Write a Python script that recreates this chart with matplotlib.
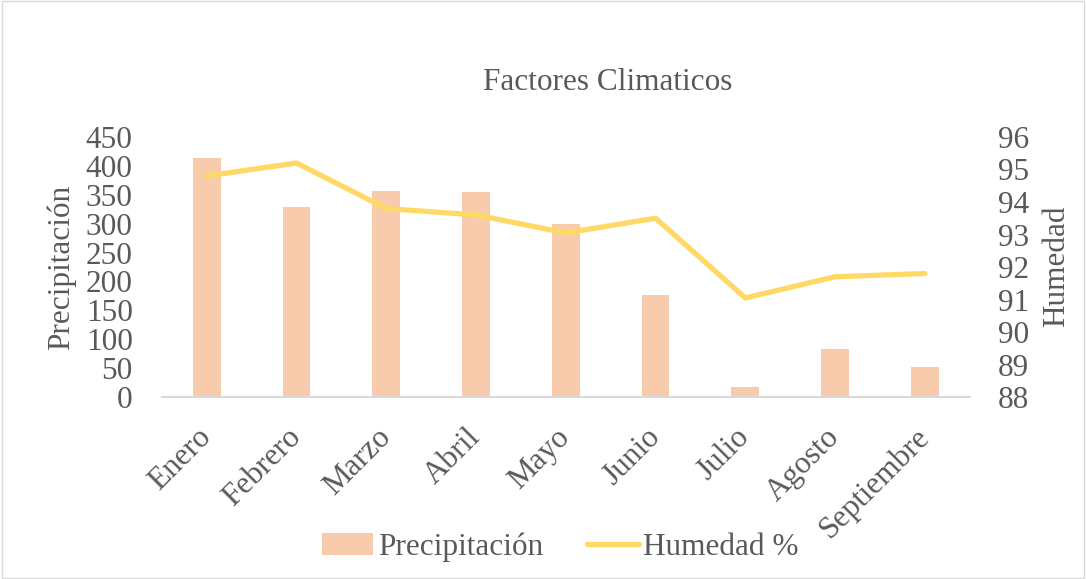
import matplotlib
matplotlib.use("Agg")
import matplotlib.pyplot as plt
from matplotlib.patches import Rectangle
import numpy as np

months = ["Enero", "Febrero", "Marzo", "Abril", "Mayo", "Junio", "Julio", "Agosto", "Septiembre"]
precipitacion = [413, 328, 357, 354, 300, 177, 18, 83, 52]
humedad = [94.8, 95.2, 93.8, 93.6, 93.05, 93.5, 91.05, 91.7, 91.8]
left_ticks = [0, 50, 100, 150, 200, 250, 300, 350, 400, 450]
right_ticks = [88, 89, 90, 91, 92, 93, 94, 95, 96]

plt.rcParams['font.family'] = ['Liberation Serif', 'DejaVu Serif']
txt = "#595959"
bar_c = "#F8CBAD"
line_c = "#FFD966"
FS = 22.5

fig = plt.figure(figsize=(10.86, 5.79), dpi=100)
fig.patches.append(Rectangle((0.002, 0.002), 0.996, 0.996, transform=fig.transFigure,
                             fill=False, edgecolor="#d9d9d9", linewidth=1))
ax = fig.add_axes([0.149, 0.3143, 0.744, 0.4491])
x = np.arange(len(months))
ax.bar(x, precipitacion, width=0.31, color=bar_c, label="Precipitación", zorder=2)
ax.set_xlim(-0.5, len(months) - 0.5)
ax.set_ylim(0, 450)
ax.set_yticks(left_ticks)
for s in ["top", "right", "left"]:
    ax.spines[s].set_visible(False)
ax.spines["bottom"].set_color("#d9d9d9")
ax.spines["bottom"].set_linewidth(1.5)
ax.tick_params(axis="both", length=0, colors=txt, labelsize=FS)
ax.tick_params(axis="y", pad=21)
ax.set_xticks(x)
ax.set_xticklabels(months, rotation=45, ha="right", va="center", rotation_mode="anchor")
ax.tick_params(axis="x", pad=26)
ax.set_ylabel("Precipitación", color=txt, fontsize=FS, ha="center", va="center")
ax.yaxis.set_label_coords(-0.124, 0.498)

ax2 = ax.twinx()
ax2.plot(x, humedad, color=line_c, linewidth=3.8, solid_capstyle="round", label="Humedad %", zorder=3)
ax2.set_ylim(88, 96)
ax2.set_yticks(right_ticks)
for s in ["top", "right", "left", "bottom"]:
    ax2.spines[s].set_visible(False)
ax2.tick_params(axis="y", length=0, colors=txt, labelsize=FS, pad=20)
ax2.set_ylabel("Humedad", color=txt, fontsize=FS, ha="center", va="center")
ax2.yaxis.set_label_coords(1.1077, 0.502)

fig.text(0.56, 0.858, "Factores Climaticos", ha="center", va="center", color=txt, fontsize=FS)

h1, l1 = ax.get_legend_handles_labels()
h2, l2 = ax2.get_legend_handles_labels()
fig.legend(h1 + h2, l1 + l2, loc="center", bbox_to_anchor=(0.516, 0.055), ncol=2, frameon=False,
           fontsize=FS, labelcolor=txt, handlelength=1.65, handletextpad=0.15, columnspacing=1.4)

fig.savefig("out.png", dpi=100)
